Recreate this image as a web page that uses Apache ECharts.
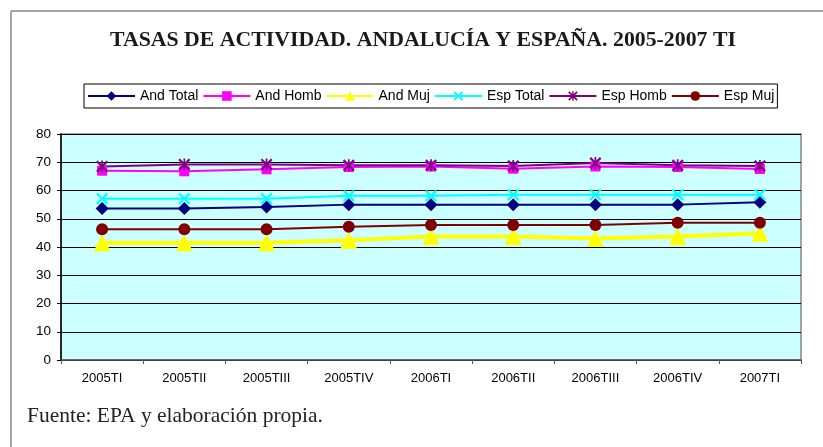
<!DOCTYPE html>
<html><head><meta charset="utf-8">
<script src="https://cdn.jsdelivr.net/npm/echarts@6/dist/echarts.min.js"></script>
<style>html,body{margin:0;padding:0;background:#fff}#c{width:823px;height:447px}</style>
</head><body><div id="c"></div>
<script>
var categories = ['2005TI','2005TII','2005TIII','2005TIV','2006TI','2006TII','2006TIII','2006TIV','2007TI'];
var andTotal = [53.6, 53.6, 54.2, 55.0, 55.0, 55.0, 55.0, 55.0, 55.8];
var andHomb  = [67.0, 66.8, 67.5, 68.3, 68.5, 67.7, 68.5, 68.3, 67.6];
var andMuj   = [41.5, 41.5, 41.5, 42.4, 43.7, 43.7, 43.0, 43.7, 44.9];
var espTotal = [57.1, 57.1, 57.1, 58.1, 58.1, 58.5, 58.5, 58.5, 58.5];
var espHomb  = [68.5, 69.2, 69.2, 68.9, 68.9, 68.7, 69.7, 68.9, 68.7];
var espMuj   = [46.3, 46.3, 46.3, 47.2, 47.8, 47.8, 47.8, 48.6, 48.6];
var yTicks = {min: 0, max: 80, interval: 10};

var xPath = 'path://M0,1.3L1.3,0L5,3.7L8.7,0L10,1.3L6.3,5L10,8.7L8.7,10L5,6.3L1.3,10L0,8.7L3.7,5Z';
var starPath = 'path://M0,1.3L1.3,0L5,3.7L8.7,0L10,1.3L6.3,5L10,8.7L8.7,10L5,6.3L1.3,10L0,8.7L3.7,5Z M4.3,0L5.7,0L5.7,10L4.3,10Z';

function s(name, data, color, symbol, size, width) {
  return {name: name, type: 'line', data: data, symbol: symbol, symbolSize: size,
    showAllSymbol: true, animation: false,
    lineStyle: {color: color, width: width}, itemStyle: {color: color}};
}

var chart = echarts.init(document.getElementById('c'), null, {renderer: 'canvas'});
chart.setOption({
  animation: false,
  title: {text: 'TASAS DE ACTIVIDAD. ANDALUCÍA Y ESPAÑA. 2005-2007 TI', left: 105, top: 24,
    textStyle: {fontFamily: 'Liberation Serif', fontWeight: 'bold', fontSize: 21.8, color: '#1a1a1a'}},
  legend: {left: 84, top: 84, padding: [5, 3], itemGap: 4, itemWidth: 47, itemHeight: 12,
    borderColor: '#000', borderWidth: 1,
    textStyle: {fontFamily: 'Liberation Sans', fontSize: 14, color: '#000'},
    data: ['And Total','And Homb','And Muj','Esp Total','Esp Homb','Esp Muj']},
  grid: {left: 61, right: 22, top: 134, bottom: 87, show: true, backgroundColor: '#ccffff', borderColor: '#888', borderWidth: 1.5},
  xAxis: {type: 'category', data: categories, boundaryGap: true,
    axisLine: {lineStyle: {color: '#555', width: 1.5}},
    axisTick: {show: true, length: 4, lineStyle: {color: '#555'}, alignWithLabel: false},
    axisLabel: {fontFamily: 'Liberation Sans', fontSize: 13, color: '#000', margin: 12}},
  yAxis: {type: 'value', min: yTicks.min, max: yTicks.max, interval: yTicks.interval,
    axisLine: {show: true, lineStyle: {color: '#000', width: 1.5}},
    axisTick: {show: true, length: 4, lineStyle: {color: '#000'}},
    axisLabel: {fontFamily: 'Liberation Sans', fontSize: 13.5, color: '#000', margin: 10},
    splitLine: {lineStyle: {color: '#000', width: 1}}},
  graphic: [
    {type: 'line', shape: {x1: 11, y1: 11, x2: 823, y2: 11}, style: {stroke: '#888', lineWidth: 1.5}},
    {type: 'line', shape: {x1: 11, y1: 11, x2: 11, y2: 447}, style: {stroke: '#888', lineWidth: 1.5}},
    {type: 'text', left: 27, top: 405, style: {text: 'Fuente: EPA y elaboración propia.', font: '21.5px "Liberation Serif"', fill: '#222'}}
  ],
  series: [
    s('And Total', andTotal, '#000080', 'diamond', 13, 2),
    s('And Homb', andHomb, '#ff00ff', 'rect', 10, 2),
    s('And Muj', andMuj, '#ffff00', 'triangle', 17, 4),
    s('Esp Total', espTotal, '#00ffff', xPath, 12, 2),
    s('Esp Homb', espHomb, '#800080', starPath, 12, 2),
    s('Esp Muj', espMuj, '#800000', 'circle', 12, 2)
  ]
});
</script></body></html>
